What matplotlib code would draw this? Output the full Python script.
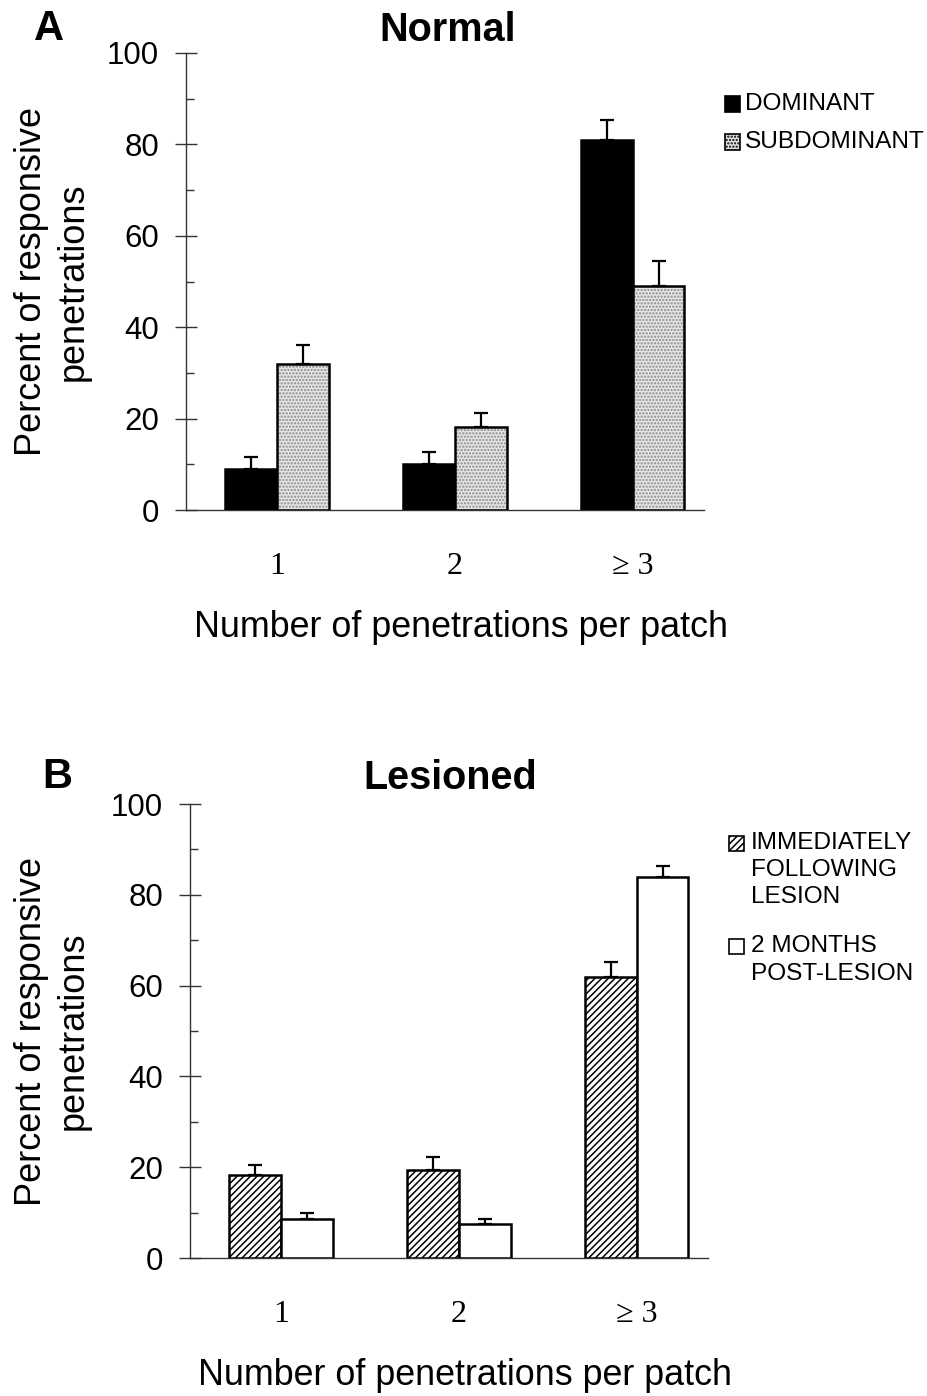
import matplotlib
matplotlib.use("Agg")
import matplotlib.pyplot as plt
import numpy as np
from matplotlib.patches import Rectangle
from matplotlib.ticker import MultipleLocator

# ---------------- data ----------------
categories = ["1", "2", "\u2265 3"]

normal_dominant = [9.0, 10.0, 81.0]
normal_dominant_err = [2.5, 2.7, 4.4]
normal_subdominant = [32.0, 18.2, 49.0]
normal_subdominant_err = [4.0, 3.0, 5.5]

lesion_immediate = [18.3, 19.4, 62.0]
lesion_immediate_err = [2.2, 2.8, 3.3]
lesion_2months = [8.5, 7.4, 84.0]
lesion_2months_err = [1.4, 1.2, 2.3]

legend_A = ["DOMINANT", "SUBDOMINANT"]
legend_B = ["IMMEDIATELY\nFOLLOWING\nLESION", "2 MONTHS\nPOST-LESION"]

# ---------------- style ----------------
W, H = 927, 1396
SANS = ["Liberation Sans", "DejaVu Sans"]
SERIF = ["Liberation Serif", "DejaVu Serif"]
plt.rcParams["font.family"] = SANS
plt.rcParams["hatch.linewidth"] = 1.1

fig = plt.figure(figsize=(W / 100, H / 100), dpi=100)


def rect(left, right, top, bottom):
    return [left / W, 1 - bottom / H, (right - left) / W, (bottom - top) / H]


def fx(x):
    return x / W


def fy(y):
    return 1 - y / H


axA = fig.add_axes(rect(186, 704, 53, 510))
axB = fig.add_axes(rect(190, 708, 804, 1258))

x = np.arange(len(categories))
bw = 0.29
EDGE_LW = 1.8


def style(ax, label_x, label_base):
    ax.set_xlim(-0.512, 2.40)
    ax.set_ylim(0, 100)
    for s in ("top", "right"):
        ax.spines[s].set_visible(False)
    for s in ("left", "bottom"):
        ax.spines[s].set_linewidth(1.0)
        ax.spines[s].set_color("#333333")
    ax.yaxis.set_major_locator(MultipleLocator(20))
    ax.yaxis.set_minor_locator(MultipleLocator(10))
    ax.tick_params(axis="y", which="major", direction="inout", length=16,
                   width=1.0, color="#333333", labelsize=22.5, pad=11.5)
    ax.tick_params(axis="y", which="minor", direction="in", length=6,
                   width=1.0, color="#333333")
    ax.set_xticks(x)
    ax.set_xticklabels(categories, fontfamily=SERIF, fontsize=23)
    ax.tick_params(axis="x", length=0, pad=30)
    ax.set_ylabel("Percent of responsive\npenetrations", fontsize=26,
                  linespacing=1.25)
    ax.yaxis.label.set_va("center")
    ax.yaxis.set_label_coords(label_x, 0.5)
    ax.set_xlabel("Number of penetrations per patch", fontsize=25.8)
    ax.xaxis.label.set_va("baseline")
    ax.xaxis.set_label_coords(0.530, label_base)


def errs(ax, xs, vals, err):
    ax.errorbar(xs, vals, yerr=[np.zeros(len(vals)), err], fmt="none",
                ecolor="black", elinewidth=1.6, capsize=4.7, capthick=1.6,
                zorder=5)


# ---------------- panel A ----------------
axA.bar(x - bw / 2, normal_dominant, bw, color="black", edgecolor="black",
        linewidth=EDGE_LW, zorder=3)
axA.bar(x + bw / 2, normal_subdominant, bw, color="#e6e6e6",
        edgecolor="#8a8a8a", hatch=".....", linewidth=0, zorder=3)
axA.bar(x + bw / 2, normal_subdominant, bw, fill=False, edgecolor="black",
        linewidth=EDGE_LW, zorder=4)
errs(axA, x - bw / 2, normal_dominant, normal_dominant_err)
errs(axA, x + bw / 2, normal_subdominant, normal_subdominant_err)
style(axA, -0.258, -0.278)

# ---------------- panel B ----------------
axB.bar(x - bw / 2, lesion_immediate, bw, color="white", edgecolor="black",
        hatch="/////", linewidth=EDGE_LW, zorder=3)
axB.bar(x + bw / 2, lesion_2months, bw, color="white", edgecolor="black",
        linewidth=EDGE_LW, zorder=3)
errs(axB, x - bw / 2, lesion_immediate, lesion_immediate_err)
errs(axB, x + bw / 2, lesion_2months, lesion_2months_err)
style(axB, -0.265, -0.280)

# ---------------- titles & panel letters ----------------
fig.text(fx(49), fy(29), "A", fontsize=30, fontweight="bold",
         ha="center", va="center")
fig.text(fx(448), fy(30), "Normal", fontsize=28.5, fontweight="bold",
         ha="center", va="center")
fig.text(fx(57), fy(777), "B", fontsize=30, fontweight="bold",
         ha="center", va="center")
fig.text(fx(450), fy(778), "Lesioned", fontsize=28.5, fontweight="bold",
         ha="center", va="center")

# ---------------- legends (manual) ----------------
SQ = 15


def swatch(xl, yc, **kw):
    r = Rectangle((fx(xl), fy(yc + SQ / 2)), SQ / W, SQ / H,
                  transform=fig.transFigure, **kw)
    fig.add_artist(r)


def legend_text(xl, yc, s):
    fig.text(fx(xl), fy(yc), s, fontsize=17.6, ha="left", va="center",
             linespacing=1.32)


# A
swatch(725, 104, facecolor="black", edgecolor="black", linewidth=1.2)
legend_text(745, 104, legend_A[0])
swatch(725, 142, facecolor="#e6e6e6", edgecolor="black", linewidth=1.2,
       hatch=".....")
legend_text(745, 142, legend_A[1])

# B
swatch(729, 843, facecolor="white", edgecolor="black", linewidth=1.2,
       hatch="/////")
legend_text(751, 870, legend_B[0])
swatch(729, 946, facecolor="white", edgecolor="black", linewidth=1.2)
legend_text(751, 960, legend_B[1])

fig.savefig("out.png", dpi=100)
